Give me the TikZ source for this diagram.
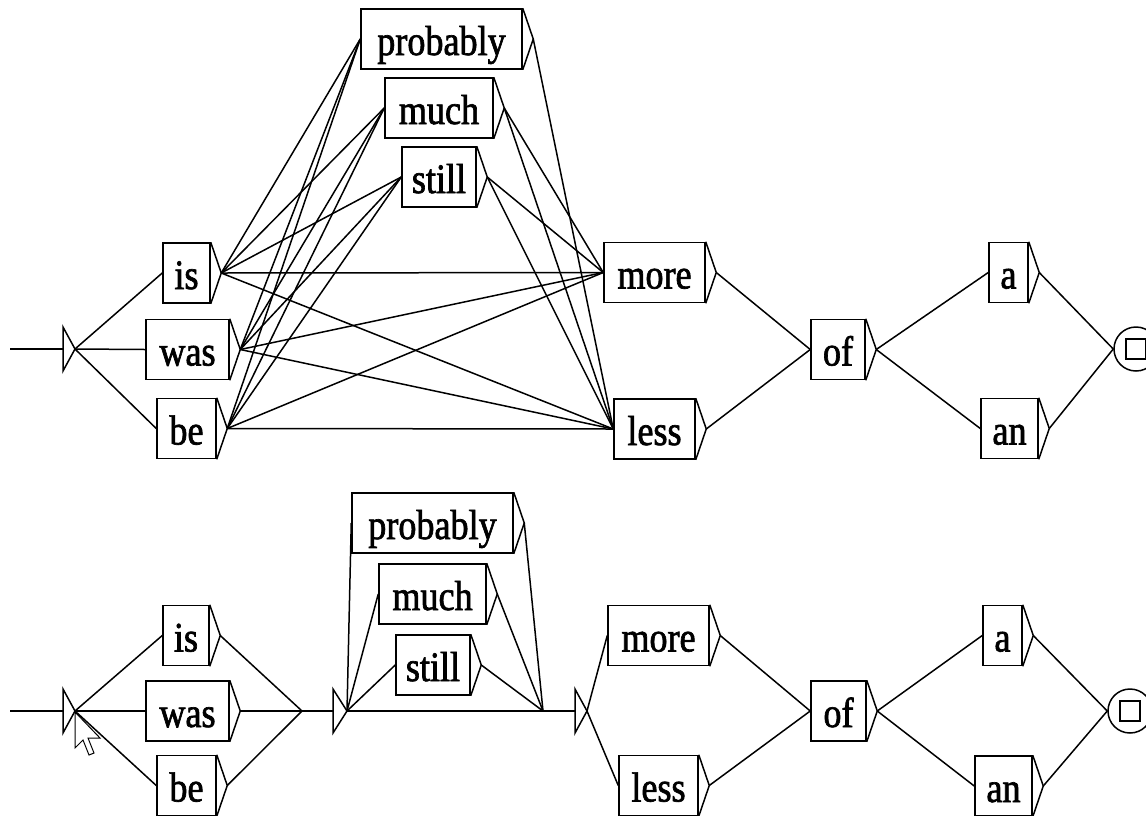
\documentclass[tikz,border=0pt]{standalone}
\usepackage{fontspec}
\setmainfont[FakeStretch=0.86, FakeBold=1.6]{Liberation Serif}
\usetikzlibrary{positioning}

\begin{document}
\begin{tikzpicture}[
    x=1pt, y=-1pt,
    wire/.style={line width=1.5pt},
    word/.style={rectangle, draw, line width=1.5pt, inner xsep=0pt, inner ysep=0pt,
                 minimum height=60pt, text height=32pt, text depth=0pt,
                 font=\fontsize{42}{44}\selectfont},
    finstate/.style={circle, draw, line width=1.5pt, minimum size=44pt, inner sep=0pt,
                 path picture={\draw[line width=1.5pt]
                   ([shift={(-10pt,-10pt)}]path picture bounding box.center) rectangle
                   ([shift={(10pt,10pt)}]path picture bounding box.center);}}
  ]
    \useasboundingbox (0,0) rectangle (1146,815);
    \fill[white] (0,0) rectangle (1146,815);
    \clip (0,0) rectangle (1146,815);

    % upper graph
    \node[word, minimum width=47pt]  (is1)    at (186.5,273) {is};
    \node[word, minimum width=83pt]  (was1)   at (187.5,349.5) {was};
    \node[word, minimum width=59pt]  (be1)    at (186.5,428.5) {be};
    \node[word, minimum width=161pt] (prob1)  at (441.5,39) {probably};
    \node[word, minimum width=108pt] (much1)  at (439,108) {much};
    \node[word, minimum width=74pt]  (still1) at (439,177) {still};
    \node[word, minimum width=101pt] (more1)  at (654.5,272.5) {more};
    \node[word, minimum width=81pt]  (less1)  at (654.5,429) {less};
    \node[word, minimum width=54pt]  (of1)    at (838,349.5) {of};
    \node[word, minimum width=39pt]  (a1)     at (1008.5,272.5) {a};
    \node[word, minimum width=57pt]  (an1)    at (1009.5,428.5) {an};
    \node[finstate] (fin1) at (1136,349) {};

    % lower graph
    \node[word, minimum width=46pt]  (is2)    at (186,635.5) {is};
    \node[word, minimum width=83pt]  (was2)   at (187.5,711) {was};
    \node[word, minimum width=59pt]  (be2)    at (186.5,785.5) {be};
    \node[word, minimum width=161pt] (prob2)  at (432.5,523) {probably};
    \node[word, minimum width=107pt] (much2)  at (432.5,594) {much};
    \node[word, minimum width=74pt]  (still2) at (433,665) {still};
    \node[word, minimum width=101pt] (more2)  at (658.5,635.5) {more};
    \node[word, minimum width=79pt]  (less2)  at (658.5,785.5) {less};
    \node[word, minimum width=55pt]  (of2)    at (838.5,711) {of};
    \node[word, minimum width=39pt]  (a2)     at (1002.5,635.5) {a};
    \node[word, minimum width=57pt]  (an2)    at (1003.5,786) {an};
    \node[finstate] (fin2) at (1130,711) {};

    % output triangles of the boxes
    \foreach \n in {is1,was1,be1,prob1,much1,still1,more1,less1,of1,a1,an1,
                    is2,was2,be2,prob2,much2,still2,more2,less2,of2,a2,an2}
      \draw[wire] (\n.north east) -- ([xshift=10.5pt]\n.east) coordinate (\n-o) -- (\n.south east);

    % initial states and empty boxes
    \coordinate (start1) at (10,349);
    \coordinate (start2) at (10,711);
    \coordinate (eps1) at (302,711);
    \coordinate (eps2) at (543,711);
    \draw[wire] (start1) -- (63,349);
    \draw[wire] (63,327) -- (75,349) coordinate (init1) -- (63,371) -- cycle;
    \draw[wire] (start2) -- (63,711);
    \draw[wire] (63,689) -- (75,711) coordinate (init2) -- (63,733) -- cycle;
    \draw[wire] (eps1) -- (333,711);
    \draw[wire] (333,689) -- (347,711) coordinate (eps1-o) -- (333,733) -- cycle;
    \draw[wire] (eps2) -- (575,711);
    \draw[wire] (575,689) -- (587,711) coordinate (eps2-o) -- (575,733) -- cycle;

    % upper connectors
    \foreach \t in {is1,was1,be1}
      \draw[wire] (init1) -- (\t.west);
    \foreach \s in {is1,was1,be1}
      \foreach \t in {prob1,much1,still1,more1,less1}
        \draw[wire] (\s-o) -- (\t.west);
    \foreach \s in {much1,still1}
      \foreach \t in {more1,less1}
        \draw[wire] (\s-o) -- (\t.west);
    \draw[wire] (prob1-o) -- (less1.west);
    \draw[wire] (more1-o) -- (of1.west);
    \draw[wire] (less1-o) -- (of1.west);
    \draw[wire] (of1-o) -- (a1.west);
    \draw[wire] (of1-o) -- (an1.west);
    \draw[wire] (a1-o) -- (fin1.west);
    \draw[wire] (an1-o) -- (fin1.west);

    % lower connectors
    \foreach \t in {is2,was2,be2} {
      \draw[wire] (init2) -- (\t.west);
      \draw[wire] (\t-o) -- (eps1);
    }
    \foreach \t in {prob2,much2,still2} {
      \draw[wire] (eps1-o) -- (\t.west);
      \draw[wire] (\t-o) -- (eps2);
    }
    \draw[wire] (eps1-o) -- (eps2);
    \draw[wire] (eps2-o) -- (more2.west);
    \draw[wire] (eps2-o) -- (less2.west);
    \draw[wire] (more2-o) -- (of2.west);
    \draw[wire] (less2-o) -- (of2.west);
    \draw[wire] (of2-o) -- (a2.west);
    \draw[wire] (of2-o) -- (an2.west);
    \draw[wire] (a2-o) -- (fin2.west);
    \draw[wire] (an2-o) -- (fin2.west);

    % mouse pointer
    \draw[fill=white, line width=1pt] (75,712) -- ++(0,36) -- ++(8,-8) -- ++(6,15)
      -- ++(5,-2) -- ++(-6,-15) -- ++(12,0) -- cycle;
  \end{tikzpicture}
\end{document}
